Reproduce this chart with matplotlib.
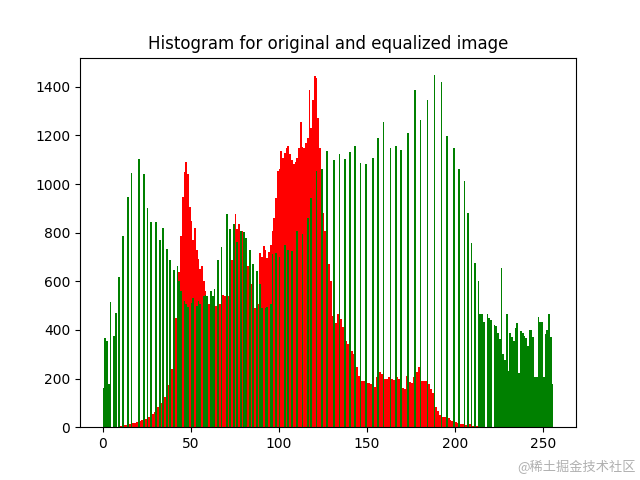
import numpy as np
import matplotlib
matplotlib.use("Agg")
import matplotlib.pyplot as plt

# histogram of the original image (red), one count per grey level 0..255
orig_counts = [
    0, 0, 0, 0, 0, 0, 0, 0, 0, 0,
    3, 5, 8, 10, 12, 12, 14, 16, 18, 20,
    22, 25, 28, 30, 33, 38, 42, 48, 55, 62,
    72, 85, 95, 100, 110, 125, 145, 175, 205, 240,
    380, 450, 610, 640, 785, 945, 1050, 1090, 1040, 905,
    850, 770, 820, 730, 690, 650, 665, 600, 560, 520,
    505, 495, 510, 530, 500, 520, 505, 540, 545, 540,
    560, 540, 600, 686, 750, 876, 815, 836, 760, 808,
    780, 672, 665, 640, 588, 492, 490, 495, 505, 718,
    700, 745, 728, 694, 720, 748, 808, 862, 944, 1054,
    1061, 1136, 1108, 1129, 1150, 1156, 1122, 1101, 1081, 1090,
    1108, 1149, 1256, 1152, 1149, 1170, 1190, 1386, 1231, 1348,
    1445, 1437, 1273, 1149, 1006, 883, 808, 740, 670, 602,
    456, 425, 430, 466, 452, 445, 411, 383, 356, 342,
    330, 315, 301, 281, 246, 212, 198, 192, 192, 185,
    180, 182, 178, 172, 164, 205, 212, 226, 220, 205,
    198, 200, 205, 200, 198, 196, 205, 205, 200, 164,
    160, 156, 212, 200, 185, 181, 205, 210, 226, 246,
    215, 192, 190, 188, 185, 178, 156, 141, 110, 85,
    65, 49, 38, 40, 42, 40, 38, 30, 25, 28,
    20, 18, 22, 15, 12, 14, 10, 8, 12, 6,
    5, 4, 3, 2,
] + [0] * 42

# histogram of the equalized image (green): only the non-empty levels
equ_levels = [
    0, 1, 2, 3, 4, 6, 7, 9, 11, 14, 16, 20, 23, 25, 27, 30, 32, 34, 36, 38,
    40, 42, 43, 44, 46, 47, 48, 50, 51, 53, 54, 55, 57, 58, 59, 61, 62, 63, 65, 67,
    70, 72, 74, 76, 78, 80, 81, 83, 85, 87, 89, 90, 92, 93, 95, 96, 98, 100, 103, 105,
    107, 110, 113, 116, 118, 121, 124, 127, 131, 134, 137, 140, 143, 146, 149, 153, 156, 159, 163, 166,
    169, 173, 177, 180, 184, 188, 192, 195, 199, 202, 205, 207, 209, 211, 213, 214, 215, 216, 218, 219,
    220, 222, 223, 224, 225, 226, 227, 228, 229, 230, 231, 232, 233, 234, 235, 236, 237, 238, 239, 240,
    241, 242, 243, 244, 245, 246, 247, 248, 249, 250, 251, 252, 253, 254, 255,
]
equ_counts = [
    160, 365, 353, 176, 513, 376, 468, 616, 787, 947, 1047, 1104, 1043, 903, 846, 846, 769, 821, 733, 686,
    645, 665, 600, 560, 520, 505, 495, 510, 530, 500, 520, 505, 540, 545, 540, 560, 540, 570, 686, 743,
    876, 815, 836, 760, 808, 805, 780, 730, 672, 643, 588, 492, 490, 495, 505, 711, 718, 700, 751, 728,
    724, 808, 794, 862, 944, 1054, 1061, 1137, 1101, 1122, 1104, 1132, 1155, 1088, 1081, 1108, 1190, 1256, 1149, 1155,
    1141, 1209, 1386, 1262, 1346, 1448, 1421, 1197, 1149, 1063, 1013, 883, 757, 675, 602, 465, 465, 432, 465, 448,
    443, 420, 416, 389, 361, 654, 302, 275, 465, 231, 389, 372, 356, 410, 429, 225, 397, 386, 375, 366,
    332, 400, 400, 370, 205, 205, 452, 434, 434, 205, 383, 400, 465, 370, 178,
]

levels = np.arange(256)
equ_full = np.zeros(256)
equ_full[equ_levels] = equ_counts

fig, ax = plt.subplots(figsize=(6.4, 4.8), dpi=100)
ax.hist(levels, bins=256, range=(0, 256), weights=orig_counts, color='r')
ax.hist(levels, bins=256, range=(0, 256), weights=equ_full, color='g')
ax.set_title("Histogram for original and equalized image")

fig.text(0.994, 0.012, "@稀土掘金技术社区", ha='right', va='bottom',
         fontsize=9.5, color='#b0b0b0', family=['Noto Sans CJK SC', 'DejaVu Sans'])

fig.savefig("out.png")
